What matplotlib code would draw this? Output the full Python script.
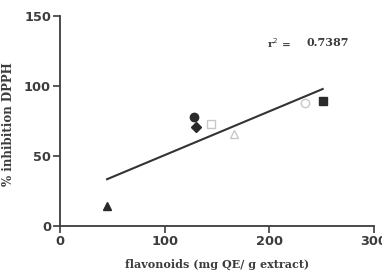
import matplotlib
matplotlib.use("Agg")
import matplotlib.pyplot as plt
import numpy as np

# flavonoid content (mg QE / g extract) vs % inhibition DPPH
flavonoids = [45, 128, 130, 144, 166, 234, 251]
inhibition = [14, 78, 71, 73, 66, 88, 89]
markers = ['^', 'o', 'D', 's', '^', 'o', 's']
filled = [True, True, True, False, False, False, True]
r2_text = "0.7387"

x_ticks = [0, 100, 200, 300]
y_ticks = [0, 50, 100, 150]

ink = '#2a2a2a'
grey = '#3c3c3c'
serif = 'DejaVu Serif'
sans = 'DejaVu Sans'

fig = plt.figure(figsize=(3.82, 2.76), dpi=100)
ax = fig.add_axes([0.157, 0.181, 0.822, 0.761])

for x, y, m, f in zip(flavonoids, inhibition, markers, filled):
    ms = 5 if m == 'D' else 6
    ax.plot(x, y, marker=m, ms=ms, linestyle='none',
            markerfacecolor=ink if f else 'white',
            markeredgecolor=ink if f else '#c8c8c8', markeredgewidth=1.0)

# linear regression line over data range
k, b = np.polyfit(flavonoids, inhibition, 1)
xl = np.array([min(flavonoids), max(flavonoids)])
ax.plot(xl, k * xl + b, color='#333333', lw=1.5, zorder=1)

ax.text(198, 131, "r$^2$ =", fontfamily=serif, fontweight='bold',
        fontsize=7.5, color=grey, va='center')
ax.text(236, 131, r2_text, fontfamily=serif, fontweight='bold',
        fontsize=8, color=grey, va='center')

ax.set_xlim(0, 300)
ax.set_ylim(0, 150)
ax.set_xticks(x_ticks)
ax.set_yticks(y_ticks)
for s in ['top', 'right']:
    ax.spines[s].set_visible(False)
for s in ['left', 'bottom']:
    ax.spines[s].set_color(grey)
    ax.spines[s].set_linewidth(1.3)
ax.tick_params(direction='out', length=5, width=1.2, color=grey,
               labelcolor=grey, labelsize=9.3, pad=1.5)
for lbl in ax.get_xticklabels() + ax.get_yticklabels():
    lbl.set_fontfamily(sans)
    lbl.set_fontweight('bold')

ax.set_xlabel("flavonoids (mg QE/ g extract)", fontfamily=serif,
              fontweight='bold', fontsize=8, color=grey, labelpad=8)
ax.set_ylabel("% inhibition DPPH", fontfamily=serif, fontweight='bold',
              fontsize=8.5, color=grey, va='center')
ax.yaxis.set_label_coords(-0.163, 0.486)

fig.savefig("out.png", dpi=100)
